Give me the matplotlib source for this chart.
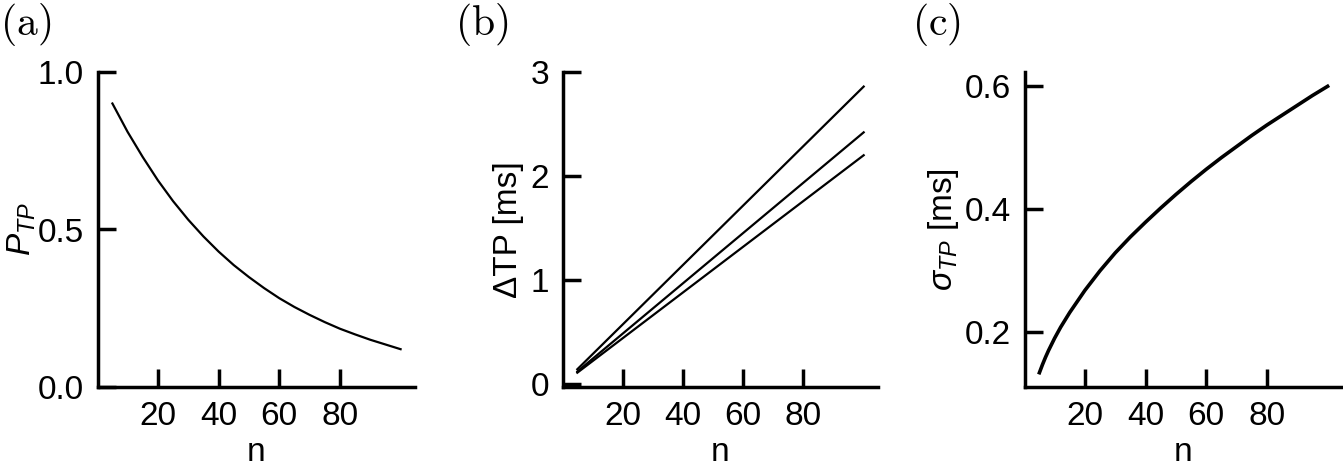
import numpy as np
import matplotlib
matplotlib.use('Agg')
import matplotlib.pyplot as plt

plt.rcParams['font.family'] = ['Liberation Sans', 'DejaVu Sans']
plt.rcParams['mathtext.fontset'] = 'custom'
plt.rcParams['mathtext.rm'] = 'Liberation Sans'
plt.rcParams['mathtext.it'] = 'Liberation Sans:italic'
plt.rcParams['font.size'] = 24

# dane
n = [5, 10, 15, 20, 25, 30, 35, 40, 45, 50, 55, 60, 65, 70, 75, 80, 85, 90, 95, 100]
p_tp = [0.90, 0.81, 0.73, 0.656, 0.59, 0.531, 0.478, 0.43, 0.387, 0.349, 0.314,
        0.282, 0.254, 0.229, 0.206, 0.185, 0.167, 0.150, 0.135, 0.12]

n_sigma = [5, 6, 7, 8, 10, 12, 15, 20, 25, 30, 35, 40, 45, 50, 55, 60, 65, 70,
           75, 80, 85, 90, 95, 100]
sigma_tp = [0.134, 0.147, 0.159, 0.170, 0.19, 0.208, 0.232, 0.268, 0.30, 0.329,
            0.355, 0.379, 0.402, 0.424, 0.445, 0.465, 0.484, 0.502, 0.52, 0.537,
            0.553, 0.569, 0.585, 0.60]

n_line = [5, 100]
dtp_lines = [[0.143, 2.86], [0.121, 2.42], [0.110, 2.20]]

W, H = 1343, 469
fig = plt.figure(figsize=(W / 100, H / 100), dpi=100)


def make_ax(left_px, right_px, top_px=72, bottom_px=387):
    ax = fig.add_axes([left_px / W, 1 - bottom_px / H,
                       (right_px - left_px) / W, (bottom_px - top_px) / H])
    for s in ['top', 'right']:
        ax.spines[s].set_visible(False)
    for s in ['left', 'bottom']:
        ax.spines[s].set_linewidth(2.5)
    ax.tick_params(direction='in', length=13, width=2.5, pad=10, labelsize=24)
    ax.set_xticks([20, 40, 60, 80])
    ax.set_xlabel('n', labelpad=4)
    return ax


# (a)
ax1 = make_ax(98, 415)
ax1.plot(n, p_tp, color='black', lw=1.6)
ax1.set_ylim(0, 1)
ax1.set_yticks([0, 0.5, 1.0])
ax1.set_yticklabels(['0.0', '0.5', '1.0'])
ax1.set_ylabel(r'$P_{TP}$', labelpad=0)

# (b)
ax2 = make_ax(563, 878)
for vals in dtp_lines:
    ax2.plot(n_line, vals, color='black', lw=1.6)
ax2.set_yticks([0, 1, 2, 3])
ax2.set_ylabel('ΔTP [ms]', labelpad=5)

# (c)
ax3 = make_ax(1025, 1342)
ax3.plot(n_sigma, sigma_tp, color='black', lw=2.6)
ax3.set_yticks([0.2, 0.4, 0.6])
ax3.set_ylabel(r'$\sigma_{TP}$ [ms]', labelpad=3)

for lab, x in [('(a)', 0), ('(b)', 455), ('(c)', 912)]:
    fig.text(x / W, 1 - 1 / H, r'$\mathrm{' + lab + '}$', math_fontfamily='cm',
             fontsize=30, ha='left', va='top')

fig.savefig('out.png', dpi=100)
